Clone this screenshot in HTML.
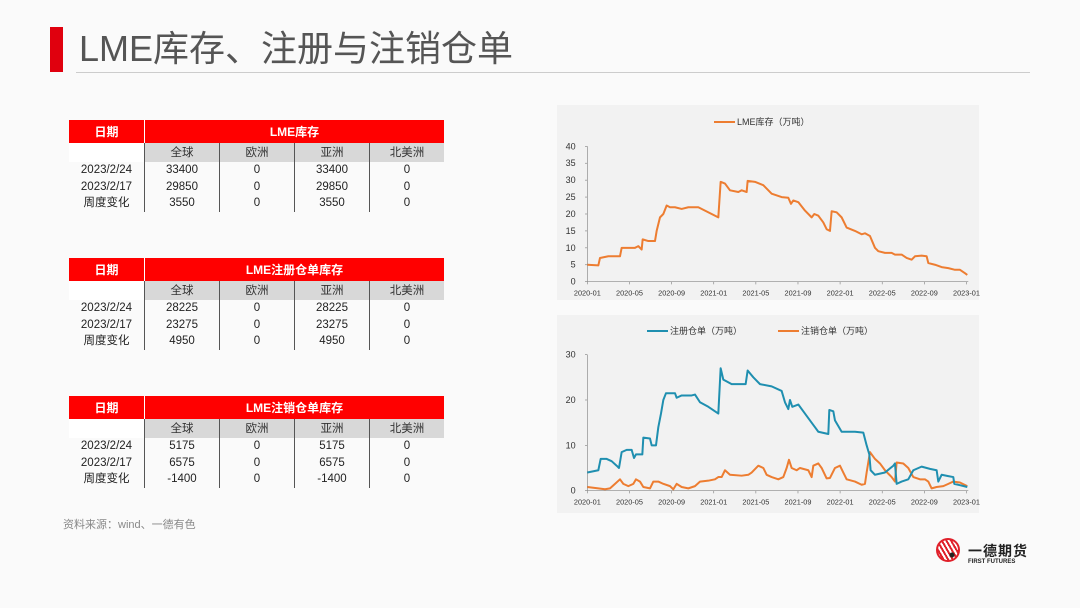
<!DOCTYPE html>
<html><head><meta charset="utf-8"><style>
body{margin:0;width:1080px;height:608px;background:#fafafa;font-family:"Liberation Sans","Noto Sans CJK SC",sans-serif;position:relative;overflow:hidden}
.bar{position:absolute;left:50px;top:27px;width:13px;height:45px;background:#e0000e}
.title{position:absolute;left:79px;top:26px;font-size:36px;color:#555;line-height:46px}
.hl{position:absolute;left:76px;top:72px;width:954px;height:1px;background:#ccc}
table{position:absolute;left:69px;border-collapse:collapse;font-size:11.5px;color:#222;text-align:center}
td{padding:0;height:16.5px;border-left:1px solid #555;line-height:16px}
td:first-child{width:75px;border-left:none}
td{width:74px}
tr.h td{background:#f00;color:#fff;font-weight:bold;height:23px;font-size:12px}
tr.s td{background:#d8d8d8;height:19px;color:#333}
tr.s td:first-child{background:#fff}
tr.h td:nth-child(2){border-left:1px solid #fff}
.src{position:absolute;left:63px;top:516px;font-size:11px;color:#888}
.box{position:absolute;left:557px;width:422px;background:#f2f2f2}
</style></head><body>
<div class="bar"></div><div class="title">LME库存、注册与注销仓单</div><div class="hl"></div>

<table style="top:120px"><tr class="h"><td>日期</td><td colspan="4">LME库存</td></tr>
<tr class="s"><td></td><td>全球</td><td>欧洲</td><td>亚洲</td><td>北美洲</td></tr>
<tr><td>2023/2/24</td><td>33400</td><td>0</td><td>33400</td><td>0</td></tr>
<tr><td>2023/2/17</td><td>29850</td><td>0</td><td>29850</td><td>0</td></tr>
<tr><td>周度变化</td><td>3550</td><td>0</td><td>3550</td><td>0</td></tr></table>

<table style="top:258px"><tr class="h"><td>日期</td><td colspan="4">LME注册仓单库存</td></tr>
<tr class="s"><td></td><td>全球</td><td>欧洲</td><td>亚洲</td><td>北美洲</td></tr>
<tr><td>2023/2/24</td><td>28225</td><td>0</td><td>28225</td><td>0</td></tr>
<tr><td>2023/2/17</td><td>23275</td><td>0</td><td>23275</td><td>0</td></tr>
<tr><td>周度变化</td><td>4950</td><td>0</td><td>4950</td><td>0</td></tr></table>

<table style="top:396px"><tr class="h"><td>日期</td><td colspan="4">LME注销仓单库存</td></tr>
<tr class="s"><td></td><td>全球</td><td>欧洲</td><td>亚洲</td><td>北美洲</td></tr>
<tr><td>2023/2/24</td><td>5175</td><td>0</td><td>5175</td><td>0</td></tr>
<tr><td>2023/2/17</td><td>6575</td><td>0</td><td>6575</td><td>0</td></tr>
<tr><td>周度变化</td><td>-1400</td><td>0</td><td>-1400</td><td>0</td></tr></table>

<div class="src">资料来源：wind、一德有色</div>

<div class="box" style="top:105px;height:195px"></div>
<div class="box" style="top:315px;height:198px"></div>

<svg width="1080" height="608" style="position:absolute;left:0;top:0" font-family="Liberation Sans, Noto Sans CJK SC, sans-serif">
<g id="c1" transform="translate(555,105) scale(0.3333)"></g>
<g id="c2" transform="translate(555,315) scale(0.3333)"></g>
<g font-size="8" fill="#333">
<line x1="714" y1="122" x2="735" y2="122" stroke="#ed7d31" stroke-width="2"/>
<text x="737" y="125" font-size="9">LME库存（万吨）</text>
<line x1="647" y1="331" x2="668" y2="331" stroke="#1f8fb0" stroke-width="2"/>
<text x="670" y="334" font-size="9">注册仓单（万吨）</text>
<line x1="778" y1="331" x2="799" y2="331" stroke="#ed7d31" stroke-width="2"/>
<text x="801" y="334" font-size="9">注销仓单（万吨）</text>
</g>
</svg>
<div style="position:absolute;left:936px;top:538px;width:24px;height:24px;border-radius:50%;border:2px solid #e0202a;box-sizing:border-box;background:radial-gradient(circle at 70% 75%,#222 2px,transparent 3px),repeating-linear-gradient(60deg,#e0202a 0 2px,#fff 2px 4px)"></div>
<div style="position:absolute;left:968px;top:541px;font-size:14px;font-weight:bold;color:#222;letter-spacing:1px">一德期货</div>
<div style="position:absolute;left:968px;top:559px;font-size:6px;font-weight:bold;color:#222">FIRST FUTURES</div>
<script>
var NS="http://www.w3.org/2000/svg";
function el(p,t,a,txt){var e=document.createElementNS(NS,t);for(var k in a)e.setAttribute(k,a[k]);if(txt)e.textContent=txt;p.appendChild(e);return e;}
function axes(g,y0,ytop,max,step){
 el(g,"line",{x1:97,y1:y0,x2:1240,y2:y0,stroke:"#888","stroke-width":2});
 el(g,"line",{x1:97,y1:y0,x2:97,y2:ytop,stroke:"#888","stroke-width":2});
 for(var v=0;v<=max;v+=step){var y=y0-(y0-ytop)*v/max;el(g,"line",{x1:90,y1:y,x2:97,y2:y,stroke:"#888","stroke-width":2});el(g,"text",{x:62,y:y+9,"font-size":27,fill:"#333","text-anchor":"end"},String(v));}
 var labs=["2020-01","2020-05","2020-09","2021-01","2021-05","2021-09","2022-01","2022-05","2022-09","2023-01"];
 for(var i=0;i<labs.length;i++){var x=97+i*126.4;el(g,"line",{x1:x,y1:y0,x2:x,y2:y0+8,stroke:"#888","stroke-width":2});el(g,"text",{x:x,y:y0+42,"font-size":22,fill:"#333","text-anchor":"middle"},labs[i]);}
}
function line(g,d,y0,k,c){var s=[];for(var i=0;i<d.length;i+=2)s.push(d[i]+","+(y0-d[i+1]*k));el(g,"polyline",{points:s.join(" "),fill:"none",stroke:c,"stroke-width":6,"stroke-linejoin":"round"});}
var g1=document.getElementById("c1"),g2=document.getElementById("c2");
axes(g1,530,124,40,5);axes(g2,527,119,30,10);
line(g1,[97,5,130,4.8,135,7,160,7.5,195,7.5,200,10,240,10,250,10.5,260,9.5,263,12.5,280,12,300,12,305,15,315,19,325,20,335,22.5,345,22,360,22,380,21.5,400,22,430,22,450,21,470,20,490,19,497,29.5,510,29,525,27,550,26.5,560,27,575,26.5,578,29.8,600,29.5,625,28.5,650,26,680,25,700,24.8,708,23,715,24,730,23.5,750,21,770,19,778,20,790,19.5,805,17.5,815,15.5,825,15,830,20.8,845,20.5,860,19,875,16,900,15,920,14,930,14.3,945,13.5,960,10,970,9,990,8.5,1010,8.5,1020,8,1040,8,1055,7,1070,6.5,1080,7.5,1100,7.7,1115,7.5,1120,5.5,1140,5,1160,4.3,1180,4,1200,3.5,1215,3.5,1230,2.5,1237,2],530,10.15,"#ed7d31");
line(g2,[97,0.8,130,0.5,150,0.3,165,0.5,180,1.5,195,2.5,205,1.5,220,1,235,1.5,243,2.5,255,2,265,0.8,285,0.5,295,2,310,2,325,1.5,345,1,355,0.3,365,1.5,380,0.8,400,0.5,420,1,435,2,460,2.2,480,2.5,490,3,500,3,510,4.5,525,3.5,560,3.3,580,3.5,590,4,610,5.5,625,5,635,3.5,650,3,670,2.5,685,3,695,5,702,6.8,710,5,725,4.5,735,5,760,4.5,770,3,775,5.5,790,6,800,5,815,2.7,825,2.8,840,5,855,5.5,865,4,875,2.5,900,2,920,1.3,930,1.5,935,4,945,8.5,960,7,975,6,990,4.5,1010,3,1020,2,1025,6.2,1045,6,1060,5,1075,3,1095,2.5,1110,2.5,1120,2,1130,0.5,1145,0.8,1165,1,1180,1.5,1195,2,1215,1.8,1237,1],527,13.6,"#ed7d31");
line(g2,[97,4,130,4.5,137,7,155,7,170,6.5,185,5.5,192,5,200,8.5,215,9,230,9,237,7.2,243,8,262,8,265,11.7,285,11.5,290,10,303,10,310,14,318,17,325,20,333,21.5,360,21.5,365,20.5,380,21,410,21,420,21.2,435,19.5,460,18.5,490,17,497,27,505,24.5,530,23.5,560,23.5,572,23.5,578,26.5,595,25,615,23.5,650,23,680,22,690,19.5,700,18,705,20,712,18.5,730,19,745,17.5,770,15,780,14,790,13,820,12.5,823,17.8,835,17.5,840,15.5,860,13,900,13,925,12.8,935,10,943,8,947,4.5,960,3.5,990,4,1015,5.5,1020,6,1025,1.5,1040,2,1060,2.5,1075,4.5,1100,5.3,1125,4.8,1145,4.5,1150,2,1160,3.5,1180,3.2,1195,3,1198,1.5,1215,1.2,1237,0.8],527,13.6,"#1f8fb0");
</script>
</body></html>
